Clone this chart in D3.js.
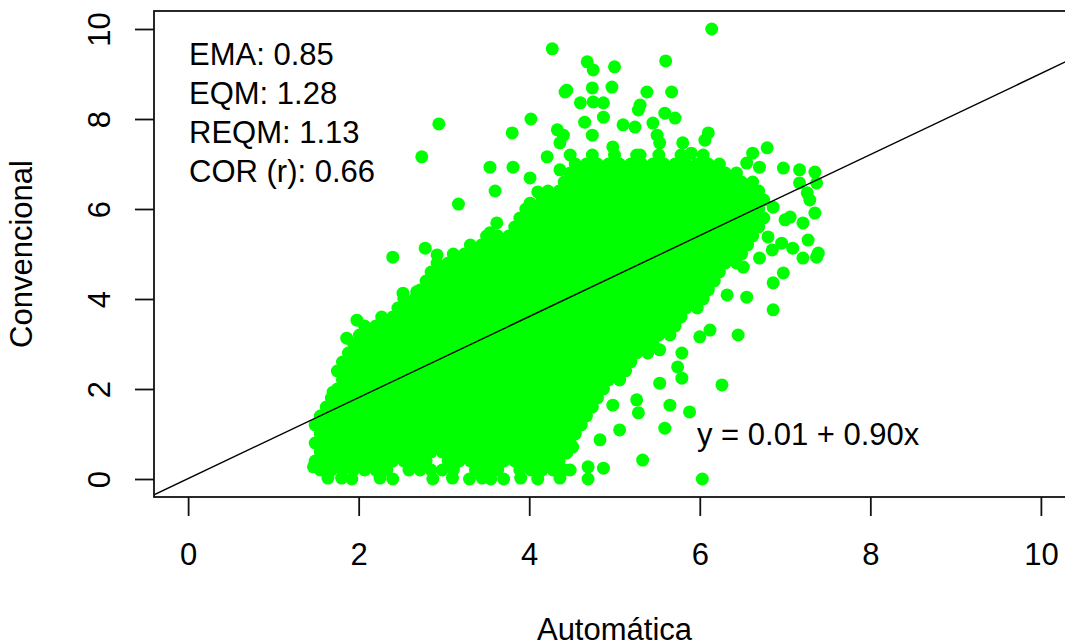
<!DOCTYPE html>
<html>
<head>
<meta charset="utf-8">
<title>Automática x Convencional</title>
<script src="https://cdn.jsdelivr.net/npm/d3@7"></script>
<style>
  body { margin: 0; background: #fff; }
  svg text { font-family: "Liberation Sans", Arial, sans-serif; fill: #000; }
</style>
</head>
<body>
<svg id="chart" width="1065" height="643"></svg>
<script>
// ticks
const xTicks = [0, 2, 4, 6, 8, 10];
const yTicks = [0, 2, 4, 6, 8, 10];

// summary stats printed in the corner
const statLabels = ["EMA", "EQM", "REQM", "COR (r)"];
const statValues = ["0.85", "1.28", "1.13", "0.66"];

// fitted line
const fitIntercept = 0.01;
const fitSlope = 0.90;

// dense part of the cloud, read row by row (Convencional value, then Automática values)
const cloudRowY = [0.2, 0.4, 0.6, 0.8, 1.0, 1.2, 1.4, 1.6, 1.8, 2.0, 2.2, 2.4, 2.6, 2.8, 3.0, 3.2, 3.4, 3.6,
  3.8, 4.0, 4.2, 4.4, 4.6, 4.8, 5.0, 5.2, 5.4, 5.6, 5.8, 6.0, 6.2, 6.4, 6.6, 6.8, 7.0, 7.2];
const cloudRowX = [
  [1.55,1.68,1.81,1.94,2.07,2.2,2.33,2.59,2.72,2.85,2.98,3.11,3.37,3.5,3.63,3.89,4.02,4.15,4.28,4.41],
  [1.49,1.62,1.75,1.88,2.01,2.14,2.27,2.4,2.53,2.66,2.79,3.05,3.18,3.31,3.44,3.57,3.7,3.83,3.96,4.09,4.22,4.35],
  [1.55,1.68,1.81,1.94,2.07,2.2,2.33,2.46,2.59,2.72,2.85,2.98,3.11,3.24,3.37,3.5,3.63,3.76,3.89,4.02,4.15,4.28,4.41],
  [1.49,1.62,1.75,1.88,2.01,2.14,2.27,2.4,2.53,2.66,2.79,2.92,3.05,3.18,3.31,3.44,3.57,3.7,3.83,3.96,4.09,4.22,4.35,4.48],
  [1.55,1.68,1.81,1.94,2.07,2.2,2.33,2.46,2.59,2.72,2.85,2.98,3.11,3.24,3.37,3.5,3.63,3.76,3.89,4.02,4.15,4.28,4.41,4.54],
  [1.49,1.62,1.75,1.88,2.01,2.14,2.27,2.4,2.53,2.66,2.79,2.92,3.05,3.18,3.31,3.44,3.57,3.7,3.83,3.96,4.09,4.22,4.35,4.48,4.61],
  [1.55,1.68,1.81,1.94,2.07,2.2,2.33,2.46,2.59,2.72,2.85,2.98,3.11,3.24,3.37,3.5,3.63,3.76,3.89,4.02,4.15,4.28,4.41,4.54,4.67],
  [1.62,1.75,1.88,2.01,2.14,2.27,2.4,2.53,2.66,2.79,2.92,3.05,3.18,3.31,3.44,3.57,3.7,3.83,3.96,4.09,4.22,4.35,4.48,4.61,4.74],
  [1.68,1.81,1.94,2.07,2.2,2.33,2.46,2.59,2.72,2.85,2.98,3.11,3.24,3.37,3.5,3.63,3.76,3.89,4.02,4.15,4.28,4.41,4.54,4.67,4.8],
  [1.75,1.88,2.01,2.14,2.27,2.4,2.53,2.66,2.79,2.92,3.05,3.18,3.31,3.44,3.57,3.7,3.83,3.96,4.09,4.22,4.35,4.48,4.61,4.74,4.87],
  [1.81,1.94,2.07,2.2,2.33,2.46,2.59,2.72,2.85,2.98,3.11,3.24,3.37,3.5,3.63,3.76,3.89,4.02,4.15,4.28,4.41,4.54,4.67,4.8,4.93,5.06],
  [1.75,1.88,2.01,2.14,2.27,2.4,2.53,2.66,2.79,2.92,3.05,3.18,3.31,3.44,3.57,3.7,3.83,3.96,4.09,4.22,4.35,4.48,4.61,4.74,4.87,5.0,5.13],
  [1.81,1.94,2.07,2.2,2.33,2.46,2.59,2.72,2.85,2.98,3.11,3.24,3.37,3.5,3.63,3.76,3.89,4.02,4.15,4.28,4.41,4.54,4.67,4.8,4.93,5.06,5.19],
  [1.88,2.01,2.14,2.27,2.4,2.53,2.66,2.79,2.92,3.05,3.18,3.31,3.44,3.57,3.7,3.83,3.96,4.09,4.22,4.35,4.48,4.61,4.74,4.87,5.0,5.13,5.26,5.39],
  [1.94,2.07,2.2,2.33,2.46,2.59,2.72,2.85,2.98,3.11,3.24,3.37,3.5,3.63,3.76,3.89,4.02,4.15,4.28,4.41,4.54,4.67,4.8,4.93,5.06,5.19,5.32,5.45],
  [2.01,2.14,2.27,2.4,2.53,2.66,2.79,2.92,3.05,3.18,3.31,3.44,3.57,3.7,3.83,3.96,4.09,4.22,4.35,4.48,4.61,4.74,4.87,5.0,5.13,5.26,5.39,5.52,5.65],
  [2.07,2.2,2.33,2.46,2.59,2.72,2.85,2.98,3.11,3.24,3.37,3.5,3.63,3.76,3.89,4.02,4.15,4.28,4.41,4.54,4.67,4.8,4.93,5.06,5.19,5.32,5.45,5.58,5.71],
  [2.27,2.4,2.53,2.66,2.79,2.92,3.05,3.18,3.31,3.44,3.57,3.7,3.83,3.96,4.09,4.22,4.35,4.48,4.61,4.74,4.87,5.0,5.13,5.26,5.39,5.52,5.65,5.78],
  [2.46,2.59,2.72,2.85,2.98,3.11,3.24,3.37,3.5,3.63,3.76,3.89,4.02,4.15,4.28,4.41,4.54,4.67,4.8,4.93,5.06,5.19,5.32,5.45,5.58,5.71,5.84,5.97],
  [2.53,2.66,2.79,2.92,3.05,3.18,3.31,3.44,3.57,3.7,3.83,3.96,4.09,4.22,4.35,4.48,4.61,4.74,4.87,5.0,5.13,5.26,5.39,5.52,5.65,5.78,5.91,6.04],
  [2.72,2.85,2.98,3.11,3.24,3.37,3.5,3.63,3.76,3.89,4.02,4.15,4.28,4.41,4.54,4.67,4.8,4.93,5.06,5.19,5.32,5.45,5.58,5.71,5.84,5.97,6.1],
  [2.79,2.92,3.05,3.18,3.31,3.44,3.57,3.7,3.83,3.96,4.09,4.22,4.35,4.48,4.61,4.74,4.87,5.0,5.13,5.26,5.39,5.52,5.65,5.78,5.91,6.04,6.17],
  [2.85,2.98,3.11,3.24,3.37,3.5,3.63,3.76,3.89,4.02,4.15,4.28,4.41,4.54,4.67,4.8,4.93,5.06,5.19,5.32,5.45,5.58,5.71,5.84,5.97,6.1,6.23],
  [2.92,3.05,3.18,3.31,3.44,3.57,3.7,3.83,3.96,4.09,4.22,4.35,4.48,4.61,4.74,4.87,5.0,5.13,5.26,5.39,5.52,5.65,5.78,5.91,6.04,6.17,6.3,6.43],
  [3.11,3.24,3.37,3.5,3.63,3.76,3.89,4.02,4.15,4.28,4.41,4.54,4.67,4.8,4.93,5.06,5.19,5.32,5.45,5.58,5.71,5.84,5.97,6.1,6.23,6.36,6.49],
  [3.31,3.44,3.57,3.7,3.83,3.96,4.09,4.22,4.35,4.48,4.61,4.74,4.87,5.0,5.13,5.26,5.39,5.52,5.65,5.78,5.91,6.04,6.17,6.3,6.43,6.56],
  [3.5,3.63,3.76,3.89,4.02,4.15,4.28,4.41,4.54,4.67,4.8,4.93,5.06,5.19,5.32,5.45,5.58,5.71,5.84,5.97,6.1,6.23,6.36,6.49,6.62],
  [3.83,3.96,4.09,4.22,4.35,4.48,4.61,4.74,4.87,5.0,5.13,5.26,5.39,5.52,5.65,5.78,5.91,6.04,6.17,6.3,6.43,6.56,6.69],
  [3.89,4.02,4.15,4.28,4.41,4.54,4.67,4.8,4.93,5.06,5.19,5.32,5.45,5.58,5.71,5.84,5.97,6.1,6.23,6.36,6.49,6.62,6.75],
  [3.96,4.09,4.22,4.35,4.48,4.61,4.74,4.87,5.0,5.13,5.26,5.39,5.52,5.65,5.78,5.91,6.04,6.17,6.3,6.43,6.56,6.69],
  [4.15,4.28,4.41,4.54,4.67,4.8,4.93,5.06,5.19,5.32,5.45,5.58,5.71,5.84,5.97,6.1,6.23,6.36,6.49,6.62,6.75],
  [4.22,4.35,4.48,4.61,4.74,4.87,5.0,5.13,5.26,5.39,5.52,5.65,5.78,5.91,6.04,6.17,6.3,6.43,6.56,6.69],
  [4.41,4.54,4.67,4.8,4.93,5.06,5.19,5.32,5.45,5.58,5.71,5.84,5.97,6.1,6.23,6.36,6.49,6.62],
  [4.48,4.61,4.74,4.87,5.0,5.13,5.26,5.39,5.52,5.65,5.78,5.91,6.04,6.17,6.3,6.43],
  [4.54,4.67,4.8,4.93,5.06,5.19,5.32,5.45,5.58,5.71,5.84,5.97,6.1,6.23],
  [4.48,4.74,5.0,5.26,5.52,5.78,6.04]
];

// loose points around the edge of the cloud [Automática, Convencional]
const edgePoints = [
  [6.14,10.0],[4.27,9.56],[5.6,9.29],[5.0,9.16],[4.68,9.27],[4.75,9.09],[4.44,8.64],[4.74,8.69],
  [4.97,8.71],[5.38,8.6],[5.67,8.6],[4.6,8.36],[4.75,8.38],[4.87,8.36],[5.3,8.31],[4.65,7.93],
  [4.87,8.04],[5.1,7.87],[5.24,7.82],[5.28,8.2],[5.45,7.91],[5.59,8.13],[5.71,8.02],[4.4,7.64],
  [4.74,7.64],[5.5,7.64],[5.53,7.47],[5.8,7.47],[6.1,7.69],[6.06,7.53],[4.98,7.38],[5.3,7.2],
  [5.9,7.24],[6.62,7.24],[6.79,7.36],[6.55,7.02],[6.7,6.93],[6.98,6.91],[7.17,6.87],[7.35,6.82],
  [7.37,6.58],[7.17,6.58],[7.26,6.36],[7.29,6.2],[6.86,6.04],[7.06,5.82],[7.35,5.91],[7.21,5.69],
  [7.0,5.76],[6.8,5.38],[6.96,5.24],[7.27,5.31],[7.09,5.13],[6.85,5.09],[7.39,5.02],[7.37,4.93],
  [7.21,4.91],[6.7,4.91],[6.51,4.71],[6.98,4.58],[6.86,4.36],[6.32,4.09],[6.55,4.04],[6.86,3.76],
  [6.45,3.2],[6.0,3.16],[6.12,3.31],[5.79,2.8],[5.53,2.87],[5.74,2.49],[5.79,2.24],[5.53,2.13],
  [6.26,2.09],[5.26,1.76],[5.65,1.64],[4.98,1.64],[5.88,1.49],[5.28,1.47],[5.59,1.13],[5.06,1.09],
  [4.83,0.87],[4.51,0.71],[4.44,0.58],[5.33,0.42],[4.69,0.27],[4.87,0.24],[4.48,0.2],[4.69,0.0],
  [6.03,0.0],
  [2.74,7.16],[2.94,7.89],[3.8,7.69],[4.02,8.0],[4.42,8.6],[4.33,7.76],[4.36,7.47],[4.21,7.16],
  [4.36,6.87],[3.54,6.93],[3.81,6.93],[4.01,6.69],[3.6,6.4],[4.1,6.38],[4.01,6.13],[3.17,6.11],
  [3.62,5.69],[3.54,5.47],[2.78,5.13],[2.92,4.98],[2.4,4.93],[2.52,4.13],[2.68,4.16],[1.98,3.53],
  [1.86,3.13],[1.7,1.93],[1.6,1.2],[1.47,0.27],
  [1.64,0.02],[1.8,0.02],[1.92,0.0],[2.25,0.02],[2.4,0.0],[2.87,0.0],[3.1,0.02],[3.3,0.0],
  [3.45,0.02],[3.55,0.0],[3.7,0.0],[3.9,0.02],[4.1,0.0],[4.36,0.02]
];

const svg = d3.select("#chart");
const fontSize = 31;

// R style: limits 0..10 padded by 4%
const x = d3.scaleLinear().domain([-0.4, 10.4]).range([154, 1075]);
const y = d3.scaleLinear().domain([-0.4, 10.4]).range([497, 11]);

// table of points
const points = [];
cloudRowY.forEach((cy, i) => cloudRowX[i].forEach(cx => points.push([cx, cy])));
edgePoints.forEach(p => points.push(p));

svg.append("defs").append("clipPath").attr("id", "plotArea")
  .append("rect")
  .attr("x", x.range()[0]).attr("y", y.range()[1])
  .attr("width", x.range()[1] - x.range()[0])
  .attr("height", y.range()[0] - y.range()[1]);

const plot = svg.append("g").attr("clip-path", "url(#plotArea)");

plot.selectAll("circle")
  .data(points)
  .enter()
  .append("circle")
  .attr("cx", d => x(d[0]))
  .attr("cy", d => y(d[1]))
  .attr("r", 6.5)
  .attr("fill", "#00ff00");

// abline
const [x0, x1] = x.domain();
plot.append("line")
  .attr("x1", x(x0)).attr("y1", y(fitIntercept + fitSlope * x0))
  .attr("x2", x(x1)).attr("y2", y(fitIntercept + fitSlope * x1))
  .attr("stroke", "#000")
  .attr("stroke-width", 1.4);

// box
svg.append("rect")
  .attr("x", x.range()[0]).attr("y", y.range()[1])
  .attr("width", x.range()[1] - x.range()[0])
  .attr("height", y.range()[0] - y.range()[1])
  .attr("fill", "none")
  .attr("stroke", "#111")
  .attr("stroke-width", 1.8);

// x axis
svg.append("g")
  .attr("transform", `translate(0,${y.range()[0]})`)
  .call(d3.axisBottom(x).tickValues(xTicks).tickSize(19).tickSizeOuter(0).tickPadding(27).tickFormat(d3.format("d")))
  .call(g => g.select(".domain").remove())
  .call(g => g.selectAll(".tick line").attr("stroke", "#111").attr("stroke-width", 1.8))
  .call(g => g.selectAll(".tick text")
    .attr("font-size", fontSize)
    .attr("font-family", "Liberation Sans, Arial, sans-serif")
    .attr("fill", "#000"));

// y axis, labels turned like R's las=0
svg.append("g")
  .attr("transform", `translate(${x.range()[0]},0)`)
  .call(d3.axisLeft(y).tickValues(yTicks).tickSize(19).tickSizeOuter(0).tickFormat(d3.format("d")))
  .call(g => g.select(".domain").remove())
  .call(g => g.selectAll(".tick line").attr("stroke", "#111").attr("stroke-width", 1.8))
  .call(g => g.selectAll(".tick text")
    .attr("x", 0).attr("y", 0).attr("dy", 0)
    .attr("transform", "translate(-44,0) rotate(-90)")
    .attr("text-anchor", "middle")
    .attr("font-size", fontSize)
    .attr("font-family", "Liberation Sans, Arial, sans-serif")
    .attr("fill", "#000"));

// axis titles
svg.append("text")
  .attr("x", (x.range()[0] + x.range()[1]) / 2)
  .attr("y", 640)
  .attr("text-anchor", "middle")
  .attr("font-size", fontSize)
  .text("Automática");

svg.append("text")
  .attr("transform", `translate(32,${(y.range()[0] + y.range()[1]) / 2}) rotate(-90)`)
  .attr("text-anchor", "middle")
  .attr("font-size", fontSize)
  .text("Convencional");

// stats
svg.selectAll(".stat")
  .data(statLabels)
  .enter()
  .append("text")
  .attr("class", "stat")
  .attr("x", 189)
  .attr("y", (d, i) => 65 + i * 39)
  .attr("font-size", fontSize)
  .text((d, i) => `${d}: ${statValues[i]}`);

// equation
svg.append("text")
  .attr("x", 697)
  .attr("y", 445)
  .attr("font-size", fontSize)
  .text(`y = ${fitIntercept.toFixed(2)} + ${fitSlope.toFixed(2)}x`);
</script>
</body>
</html>
